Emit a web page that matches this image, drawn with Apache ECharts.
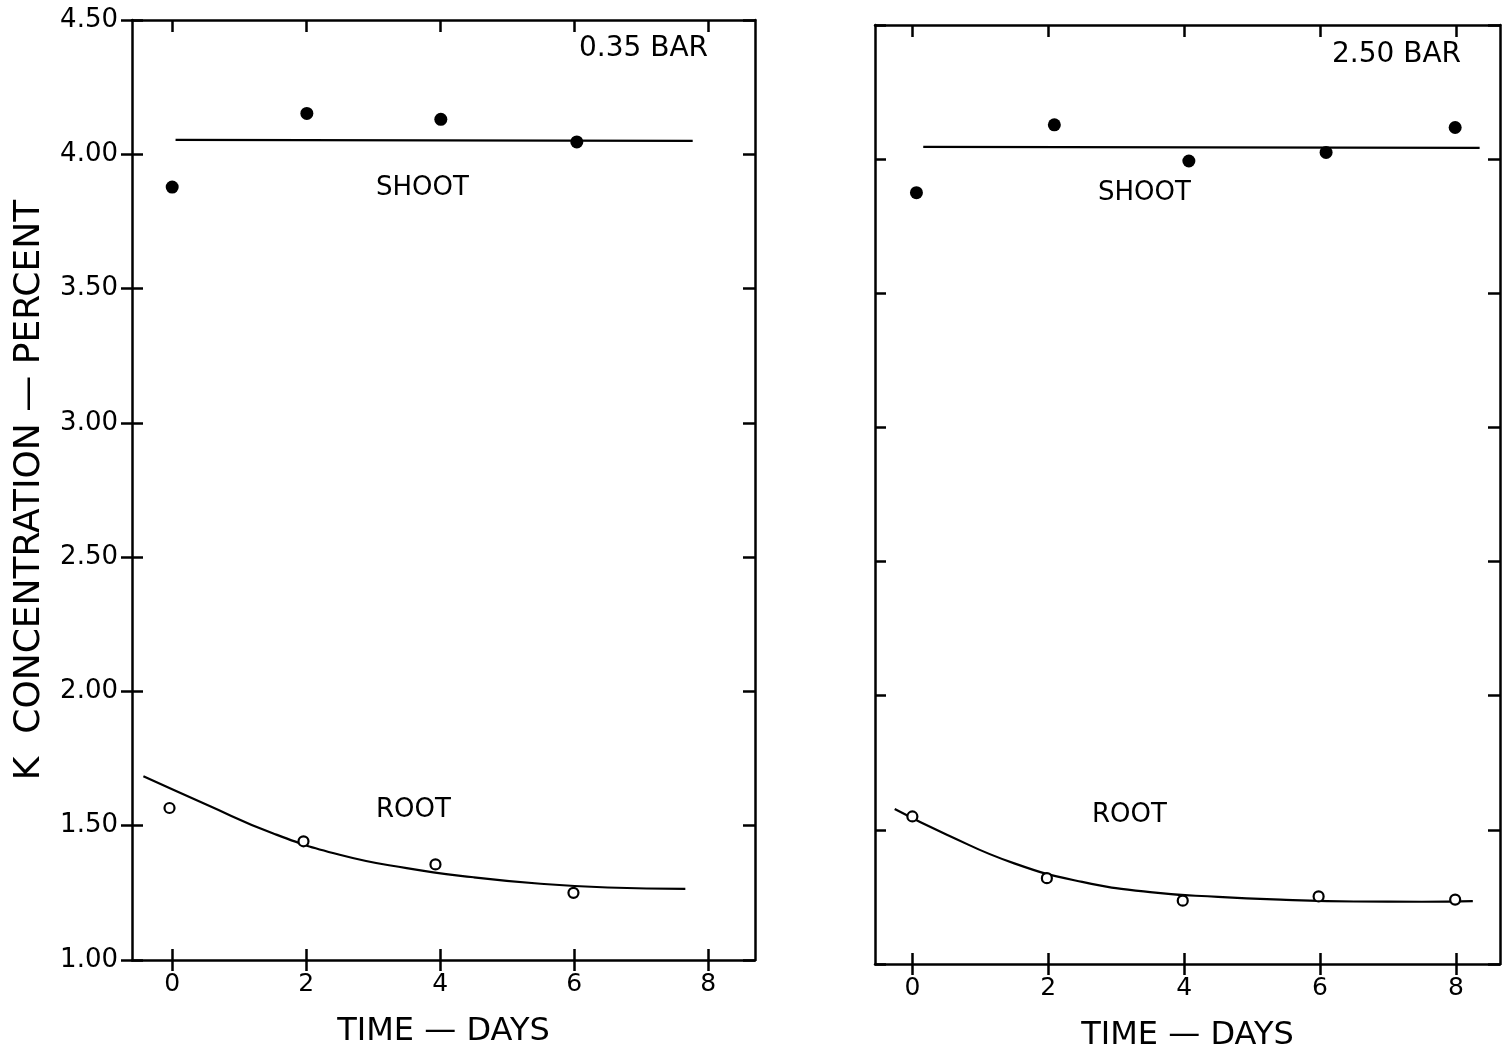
<!DOCTYPE html>
<html><head><meta charset="utf-8">
<script src="https://cdn.jsdelivr.net/npm/echarts@6/dist/echarts.min.js"></script>
<style>html,body{margin:0;padding:0;background:#fff}#c{width:1512px;height:1062px}</style>
</head><body><div id="c"></div>
<script>
// ---- data ----
const dayTicks = [0, 2, 4, 6, 8];
const yTickLabels = ['1.00', '1.50', '2.00', '2.50', '3.00', '3.50', '4.00', '4.50'];

// 0.35 bar panel
const lowShootX = [0, 2.01, 4.01, 6.04];
const lowShootY = [3.878, 4.152, 4.130, 4.046];
const lowShootFitX = [0.05, 7.77];
const lowShootFitY = [4.054, 4.050];
const lowRootX = [-0.04, 1.96, 3.93, 5.99];
const lowRootY = [1.566, 1.442, 1.356, 1.250];
const lowRootFitX = [-0.43, 0.5, 1.5, 2.5, 3.5, 4.5, 5.5, 6.5, 7.66];
const lowRootFitY = [1.684, 1.580, 1.472, 1.392, 1.342, 1.308, 1.284, 1.270, 1.265];

// 2.50 bar panel
const highShootX = [0.06, 2.09, 4.07, 6.09, 7.99];
const highShootY = [3.875, 4.128, 3.993, 4.025, 4.118];
const highShootFitX = [0.16, 8.35];
const highShootFitY = [4.046, 4.042];
const highRootX = [0, 1.98, 3.98, 5.98, 7.99];
const highRootY = [1.550, 1.320, 1.236, 1.252, 1.240];
const highRootFitX = [-0.26, 0.5, 1.5, 2.5, 3.5, 4.5, 5.5, 6.5, 7.5, 8.25];
const highRootFitY = [1.578, 1.483, 1.375, 1.306, 1.268, 1.250, 1.239, 1.233, 1.232, 1.234];

const panelLabels = ['0.35 BAR', '2.50 BAR'];
const curveLabels = ['SHOOT', 'ROOT'];
const xName = 'TIME — DAYS';
const yName = 'K  CONCENTRATION — PERCENT';

// ---- helpers ----
const zip = (xs, ys) => xs.map((x, i) => [x, ys[i]]);
const FONT = 'DejaVu Sans';
const INK = '#000';
const AX_W = 2.5;

function xAxes(gi, min, max, withName) {
  const base = {gridIndex: gi, type: 'value', min, max, splitLine: {show: false}};
  return [
    Object.assign({}, base, {
      position: 'bottom',
      name: withName ? xName : '', nameLocation: 'middle', nameGap: 56,
      nameTextStyle: {fontFamily: FONT, fontSize: 32, color: INK},
      axisLine: {show: true, onZero: false, lineStyle: {color: INK, width: AX_W}},
      axisTick: {show: true, inside: false, length: 11, customValues: dayTicks, lineStyle: {color: INK, width: AX_W}},
      axisLabel: {show: true, customValues: dayTicks, margin: 12, fontFamily: FONT, fontSize: 25, color: INK}
    }),
    Object.assign({}, base, {
      position: 'bottom',
      axisLine: {show: false, onZero: false},
      axisTick: {show: true, inside: true, length: 11, customValues: dayTicks, lineStyle: {color: INK, width: AX_W}},
      axisLabel: {show: false}
    }),
    Object.assign({}, base, {
      position: 'top',
      axisLine: {show: true, onZero: false, lineStyle: {color: INK, width: AX_W}},
      axisTick: {show: true, inside: true, length: 12, customValues: dayTicks, lineStyle: {color: INK, width: AX_W}},
      axisLabel: {show: false}
    })
  ];
}

function yAxes(gi, labels) {
  const base = {gridIndex: gi, type: 'value', min: 1, max: 4.5, interval: 0.5, splitLine: {show: false}};
  return [
    Object.assign({}, base, {
      position: 'left',
      name: labels ? yName : '', nameLocation: 'middle', nameGap: 84, nameRotate: 90,
      nameTextStyle: {fontFamily: FONT, fontSize: 36, color: INK},
      axisLine: {show: true, onZero: false, lineStyle: {color: INK, width: AX_W}},
      axisTick: {show: !!labels, inside: false, length: 11, lineStyle: {color: INK, width: AX_W}},
      axisLabel: {show: !!labels, margin: 14, fontFamily: FONT, fontSize: 26, color: INK,
        formatter: v => yTickLabels[Math.round((v - 1) / 0.5)] || v.toFixed(2)}
    }),
    Object.assign({}, base, {
      position: 'left',
      axisLine: {show: false, onZero: false},
      axisTick: {show: true, inside: true, length: 11, lineStyle: {color: INK, width: AX_W}},
      axisLabel: {show: false}
    }),
    Object.assign({}, base, {
      position: 'right',
      axisLine: {show: true, onZero: false, lineStyle: {color: INK, width: AX_W}},
      axisTick: {show: true, inside: true, length: 12, lineStyle: {color: INK, width: AX_W}},
      axisLabel: {show: false}
    })
  ];
}

function panelSeries(ai, shootX, shootY, fitSX, fitSY, rootX, rootY, fitRX, fitRY) {
  return [
    {type: 'line', xAxisIndex: ai, yAxisIndex: ai, data: zip(fitSX, fitSY), showSymbol: false, symbol: 'none',
      lineStyle: {color: INK, width: 2.2}, z: 2},
    {type: 'line', xAxisIndex: ai, yAxisIndex: ai, data: zip(fitRX, fitRY), showSymbol: false, symbol: 'none',
      smooth: 0.5, lineStyle: {color: INK, width: 2.2}, z: 2},
    {type: 'scatter', xAxisIndex: ai, yAxisIndex: ai, data: zip(shootX, shootY), symbol: 'circle', symbolSize: 13,
      itemStyle: {color: INK, opacity: 1}, z: 3},
    {type: 'scatter', xAxisIndex: ai, yAxisIndex: ai, data: zip(rootX, rootY), symbol: 'circle', symbolSize: 10,
      itemStyle: {color: '#fff', borderColor: INK, borderWidth: 2.2, opacity: 1}, z: 3}
  ];
}

const chart = echarts.init(document.getElementById('c'), null, {renderer: 'canvas'});
const txt = (x, y, s, size) => ({type: 'text', left: x, top: y, style: {text: s, fontFamily: FONT, fontSize: size, fill: INK}});

chart.setOption({
  animation: false,
  backgroundColor: '#fff',
  grid: [
    {left: 132, top: 20, width: 623, height: 940},
    {left: 875, top: 25, width: 625, height: 939}
  ],
  xAxis: xAxes(0, -0.6, 8.7, true).concat(xAxes(1, -0.55, 8.65, true)),
  yAxis: yAxes(0, true).concat(yAxes(1, false)),
  series: panelSeries(0, lowShootX, lowShootY, lowShootFitX, lowShootFitY, lowRootX, lowRootY, lowRootFitX, lowRootFitY)
    .concat(panelSeries(3, highShootX, highShootY, highShootFitX, highShootFitY, highRootX, highRootY, highRootFitX, highRootFitY)),
  graphic: [
    txt(579, 35, panelLabels[0], 28),
    txt(1332, 41, panelLabels[1], 28),
    txt(376, 175, curveLabels[0], 26),
    txt(376, 797, curveLabels[1], 26),
    txt(1098, 180, curveLabels[0], 26),
    txt(1092, 802, curveLabels[1], 26)
  ]
});
</script></body></html>
